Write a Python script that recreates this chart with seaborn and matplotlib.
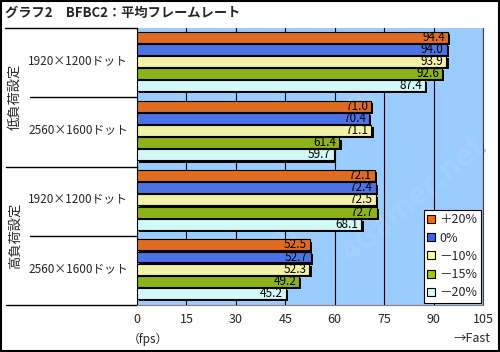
import matplotlib
matplotlib.use("Agg")
import matplotlib.pyplot as plt
import matplotlib.patheffects as pe
import matplotlib.transforms as mtransforms
from matplotlib.patches import Patch, Rectangle
from matplotlib.lines import Line2D
import numpy as np
import pandas as pd
import seaborn as sns

TITLE = "グラフ2　BFBC2：平均フレームレート"
GROUPS = ["低負荷設定", "高負荷設定"]
RESOLUTIONS = ["1920×1200ドット", "2560×1600ドット"]
SERIES = ["＋20%", "0%", "－10%", "－15%", "－20%"]
COLORS = ["#FF6600", "#3366FF", "#FFFF99", "#99CC00", "#CCFFFF"]

# rows: 低負荷 1920, 低負荷 2560, 高負荷 1920, 高負荷 2560
PLUS20 = [94.4, 71.0, 72.1, 52.5]
ZERO = [94.0, 70.4, 72.4, 52.7]
MINUS10 = [93.9, 71.1, 72.5, 52.3]
MINUS15 = [92.6, 61.4, 72.7, 49.2]
MINUS20 = [87.4, 59.7, 68.1, 45.2]

XTICKS = [0, 15, 30, 45, 60, 75, 90, 105]

GROUP_STEP = 5.7
OFFSET = 0.75
BAR_H = 0.9

series_vals = [PLUS20, ZERO, MINUS10, MINUS15, MINUS20]
rows = []
for i, (name, vals) in enumerate(zip(SERIES, series_vals)):
    for r, v in enumerate(vals):
        rows.append({"series": name, "value": v, "pos": r * GROUP_STEP + i + OFFSET})
df = pd.DataFrame(rows)

sns.set_theme(style="white")
plt.rcParams["font.family"] = ["Noto Sans CJK JP", "DejaVu Sans"]

fig = plt.figure(figsize=(5.0, 3.52), dpi=100)
ax = fig.add_axes([137 / 500, 1 - 305 / 352, (483 - 137) / 500, (305 - 28) / 352])
ax.set_facecolor("#99CCFF")

# faint watermark
for (wx, wy) in [(0.62, 0.72), (0.8, 0.38), (0.4, 0.22)]:
    ax.text(wx, wy, "4Gamer.net", transform=ax.transAxes, rotation=40, fontsize=22,
            color="#A3D0FF", fontweight="bold", ha="center", va="center", zorder=0)

sns.barplot(data=df, x="value", y="pos", hue="series", hue_order=SERIES, palette=COLORS,
            orient="h", native_scale=True, dodge=False, width=0.9, edgecolor="black",
            linewidth=0.8, legend=False, ax=ax, zorder=3)

for p in ax.patches:
    c = p.get_y() + p.get_height() / 2
    p.set_y(c - BAR_H / 2)
    p.set_height(BAR_H)
    p.set_path_effects([pe.SimplePatchShadow(offset=(1.6, -1.6), shadow_rgbFace="black", alpha=1.0),
                        pe.Normal()])

for _, row in df.iterrows():
    ax.text(row["value"] - 0.9, row["pos"], f"{row['value']:.1f}", ha="right", va="center",
            fontsize=8.5, color="black", zorder=5)

ax.set_xlim(0, 105)
ax.set_ylim(4 * GROUP_STEP, 0)
ax.set_xticks(XTICKS)
ax.set_xticklabels([str(t) for t in XTICKS], fontsize=9)
ax.set_yticks([])
ax.set_xlabel("")
ax.set_ylabel("")
ax.tick_params(axis="x", length=0, pad=6)
ax.grid(axis="x", color="black", linewidth=0.8)
ax.grid(axis="y", visible=False)
ax.set_axisbelow(True)
for s in ax.spines.values():
    s.set_color("black")
    s.set_linewidth(0.8)
ax.spines["top"].set_visible(False)
ax.spines["bottom"].set_color("#808080")
ax.spines["right"].set_color("#404040")

# category labels
blend = mtransforms.blended_transform_factory(fig.transFigure, ax.transData)
for r in range(4):
    center = r * GROUP_STEP + OFFSET + 2.0
    ax.text(78 / 500, center, RESOLUTIONS[r % 2], transform=blend, ha="center", va="center",
            fontsize=8.5, clip_on=False)
for g, name in enumerate(GROUPS):
    ax.text(15 / 500, (g + 0.5) * 2 * GROUP_STEP, name, transform=blend, ha="center",
            va="center", rotation=90, fontsize=9.5, clip_on=False)

# separator lines
for r in range(1, 5):
    x0 = 6 / 500 if r % 2 == 0 else 30 / 500
    ax.add_line(Line2D([x0, 137 / 500], [r * GROUP_STEP] * 2, transform=blend, color="black",
                       linewidth=1.0, clip_on=False))
fig.add_artist(Line2D([5 / 500, 137 / 500], [1 - 28 / 352] * 2, color="black", linewidth=1.0))

fig.text(5 / 500, 1 - 13 / 352, TITLE, fontsize=9.5, fontweight="bold", ha="left", va="center")
fig.text(148 / 500, 1 - 339 / 352, "（fps）", fontsize=8.5, ha="center", va="center")
fig.text(490 / 500, 1 - 339 / 352, "→Fast", fontsize=9, ha="right", va="center")

handles = [Patch(facecolor=c, edgecolor="black", linewidth=0.8) for c in COLORS]
leg = ax.legend(handles, SERIES, loc="lower right", bbox_to_anchor=(481 / 500, 1 - 303 / 352),
                bbox_transform=fig.transFigure, fontsize=9, frameon=True, fancybox=False,
                framealpha=1, edgecolor="black", handlelength=0.6, handleheight=0.6,
                handletextpad=0.35, labelspacing=0.42, borderpad=0.3, borderaxespad=0)
leg.get_frame().set_linewidth(0.8)
leg.set_zorder(10)

fig.add_artist(Rectangle((0.001, 0.002), 0.997, 0.996, transform=fig.transFigure, fill=False,
                         edgecolor="black", linewidth=1.5))

fig.savefig("out.png", dpi=100)
